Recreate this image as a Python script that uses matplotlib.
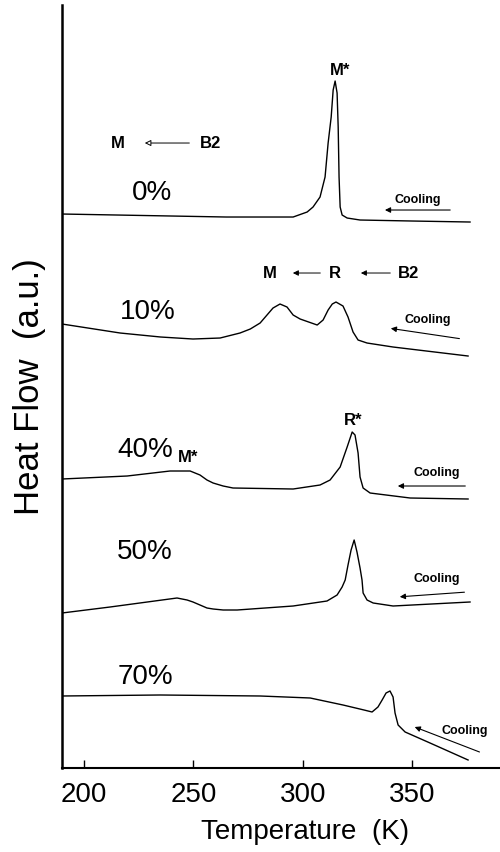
import matplotlib
matplotlib.use("Agg")
import matplotlib.pyplot as plt

plt.rcParams["font.family"] = ["Liberation Sans", "DejaVu Sans"]

# DSC cooling curves (T in K, heat flow in a.u.)
T_0 = [189.9, 215, 240, 265, 295.6, 302.0, 304.7, 307.9, 310.2, 311.6, 313.0,
       313.9, 314.8, 315.7, 316.2, 316.6, 317.1, 318.0, 320.3, 326.2, 350, 376.5]
hf_0 = [554, 553, 552, 551, 551, 556, 561, 571, 591, 625, 651,
        678, 687, 675, 641, 591, 561, 553, 550, 548, 547, 546]

T_10 = [189.9, 216.5, 235.0, 249.8, 262.2, 271.3, 276.0, 280.5, 286.4, 289.6, 292.8, 295.6,
        298.8, 306.6, 309.3, 311.6, 313.5, 315.2, 318.4, 320.7, 323.0, 325.3, 329.4,
        341.3, 375.6]
hf_10 = [444, 435, 431, 429, 430, 435, 439, 445, 460, 464, 461, 453,
         449, 443, 448, 458, 464, 466, 462, 451, 436, 428, 425,
         421, 412]

T_40 = [189.9, 219.7, 239.3, 248.5, 253.0, 256.2, 259.0, 263.6, 268.1, 295.6, 307.9,
        312.5, 317.1, 320.3, 322.6, 323.9, 325.3, 326.2, 327.6, 330.8, 349.1, 375.6]
hf_40 = [289, 292, 297, 297, 293, 288, 285, 282, 280, 279, 283,
         288, 301, 321, 336, 333, 315, 291, 280, 275, 270, 269]

T_50 = [189.9, 211.9, 242.5, 247.1, 249.8, 253.0, 256.2, 259.0, 263.6, 270.0, 295.6,
        311.1, 315.7, 318.0, 319.4, 320.7, 322.1, 323.5, 324.8, 326.2, 327.1, 327.6,
        329.4, 332.2, 341.3, 376.5]
hf_50 = [155, 161, 170, 168, 166, 163, 160, 159, 158, 158, 162,
         167, 173, 181, 188, 203, 218, 228, 216, 200, 188, 175,
         168, 165, 162, 166]

T_70 = [189.9, 234.8, 280.5, 303.4, 318.4, 328.0, 331.7, 334.4, 336.3, 338.1, 339.9,
        341.3, 342.2, 343.6, 346.8, 358.2, 375.6]
hf_70 = [72, 73, 72, 70, 63, 58, 56, 61, 68, 75, 77,
         71, 55, 43, 36, 25, 8]

fig = plt.figure(figsize=(5, 8.52), dpi=100)
ax = fig.add_axes([0.124, 0.0986, 0.876, 0.8955])

for T, hf in [(T_0, hf_0), (T_10, hf_10), (T_40, hf_40), (T_50, hf_50), (T_70, hf_70)]:
    ax.plot(T, hf, color="black", lw=1.0)

# composition labels
for lab, tx, ty in [("0%", 231.1, 575), ("10%", 229.3, 456), ("40%", 227.9, 318),
                    ("50%", 227.9, 216), ("70%", 227.9, 91)]:
    ax.text(tx, ty, lab, fontsize=20, ha="center", va="center")

# peak / phase labels
lab_kw = dict(fontsize=12, ha="center", va="center", fontweight="bold")
ax.text(317.1, 698, "M*", **lab_kw)
ax.text(323.0, 348, "R*", **lab_kw)
ax.text(247.6, 311, "M*", **lab_kw)
ax.text(215.5, 625, "M", **lab_kw)
ax.text(257.6, 625, "B2", **lab_kw)
ax.annotate("", xy=(226.5, 625), xytext=(249.4, 625),
            arrowprops=dict(arrowstyle="-|>", lw=0.7, fc="white", ec="black", mutation_scale=9))
ax.text(285.1, 495, "M", **lab_kw)
ax.text(314.8, 495, "R", **lab_kw)
ax.text(348.2, 495, "B2", **lab_kw)
for x0, x1 in [(309.3, 294.2), (341.3, 325.3)]:
    ax.annotate("", xy=(x1, 495), xytext=(x0, 495),
                arrowprops=dict(arrowstyle="-|>", lw=0.7, color="black", mutation_scale=8))

# cooling direction arrows
cool_txt = [(352.7, 568), (357.3, 448), (361.4, 295), (361.4, 189), (374.2, 37)]
cool_arr = [((368.7, 558), (336.3, 558)), ((372.9, 429), (339.0, 440)),
            ((375.6, 282), (342.2, 282)), ((375.2, 176), (343.1, 171)),
            ((382.0, 15), (350.0, 42))]
for (tx, ty), (tail, head) in zip(cool_txt, cool_arr):
    ax.text(tx, ty, "Cooling", fontsize=9, ha="center", va="center", fontweight="bold")
    ax.annotate("", xy=head, xytext=tail,
                arrowprops=dict(arrowstyle="-|>", lw=0.8, color="black", mutation_scale=8))

ax.set_xlim(189.9, 390.2)
ax.set_ylim(0, 763)
ax.set_xticks([200, 250, 300, 350])
ax.set_yticks([])
ax.tick_params(axis="x", direction="in", length=6, width=1, labelsize=20, pad=10)
for s in ["top", "right"]:
    ax.spines[s].set_visible(False)
ax.spines["left"].set_linewidth(1.8)
ax.spines["bottom"].set_linewidth(1.5)

ax.set_xlabel("Temperature  (K)", fontsize=20, va="center")
ax.xaxis.set_label_coords(0.555, -0.084)
ax.set_ylabel("Heat Flow  (a.u.)", fontsize=25, va="center")
ax.yaxis.set_label_coords(-0.075, 0.5)

fig.savefig("out.png", dpi=100)
